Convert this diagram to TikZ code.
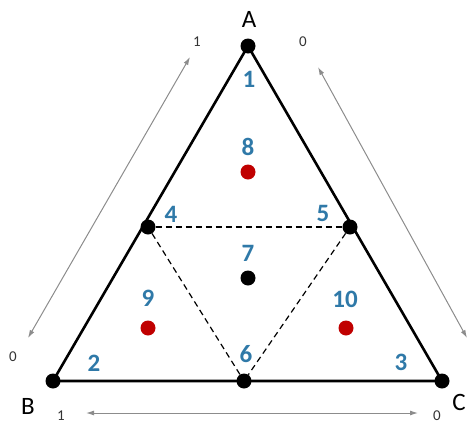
\documentclass[tikz,border=0pt]{standalone}
\usepackage{fontspec}
\setmainfont{Carlito}
\usetikzlibrary{arrows.meta}
\definecolor{numblue}{HTML}{2F79A8}
\definecolor{dotred}{HTML}{C00000}
\definecolor{arrgray}{HTML}{8C8C8C}
\tikzset{
  x=1pt,y=-1pt,
  vtx/.style={circle,fill=black,inner sep=0pt,minimum size=15pt},
  reddot/.style={circle,fill=dotred,inner sep=0pt,minimum size=15pt},
  num/.style={text=numblue,font=\fontsize{25}{25}\selectfont\bfseries,inner sep=0pt},
  corner/.style={font=\fontsize{25}{25}\selectfont,inner sep=0pt},
  scal/.style={font=\fontsize{15}{15}\selectfont,text=black!80,inner sep=0pt},
  side/.style={line width=2.6pt},
  mid/.style={dash pattern=on 6pt off 4pt,line width=1.2pt},
  gauge/.style={arrgray,line width=1pt,{Latex[length=8pt,width=5pt]}-{Latex[length=8pt,width=5pt]}}
}
\begin{document}
\begin{tikzpicture}
\useasboundingbox (0,0) rectangle (472,426);
% vertices
\node[vtx] (A) at (248,46) {};
\node[vtx] (B) at (53,381) {};
\node[vtx] (C) at (442,381) {};
\node[vtx] (P4) at (148,227) {};
\node[vtx] (P5) at (350,227) {};
\node[vtx] (P6) at (244,381) {};
\node[vtx] (P7) at (248,278) {};
\node[reddot] (P8) at (248,172) {};
\node[reddot] (P9) at (148,328) {};
\node[reddot] (P10) at (346,328) {};
% sides
\draw[side] (A.center) -- (B.center) -- (C.center) -- cycle;
\draw[mid] (P4) -- (P5);
\draw[mid] (P4) -- (P6);
\draw[mid] (P5) -- (P6);
% labels
\node[corner] (lA) at (249,19) {A};
\node[corner] (lB) at (28,406) {B};
\node[corner] (lC) at (459,402) {C};
\node[num] (n1) at (249,79) {1};
\node[num] (n2) at (94,363) {2};
\node[num] (n3) at (401,362) {3};
\node[num] (n4) at (171,214) {4};
\node[num] (n5) at (323,213) {5};
\node[num] (n6) at (246,354) {6};
\node[num] (n7) at (248,253) {7};
\node[num] (n8) at (248,147) {8};
\node[num] (n9) at (148,298) {9};
\node[num] (n10) at (345,299) {10};
% gauges
\coordinate (g1a) at (190,57);
\coordinate (g1b) at (28,338);
\coordinate (g2a) at (318,67);
\coordinate (g2b) at (467,338);
\coordinate (g3a) at (86,413);
\coordinate (g3b) at (418,413);
\draw[gauge] (g1b) -- (g1a);
\draw[gauge] (g2a) -- (g2b);
\draw[gauge] (g3a) -- (g3b);
\node[scal] (s1) at (197,42) {1};
\node[scal] (s2) at (13,357) {0};
\node[scal] (s3) at (303,42) {0};
\node[scal] (s4) at (61,416) {1};
\node[scal] (s5) at (437,416) {0};
\end{tikzpicture}
\end{document}
